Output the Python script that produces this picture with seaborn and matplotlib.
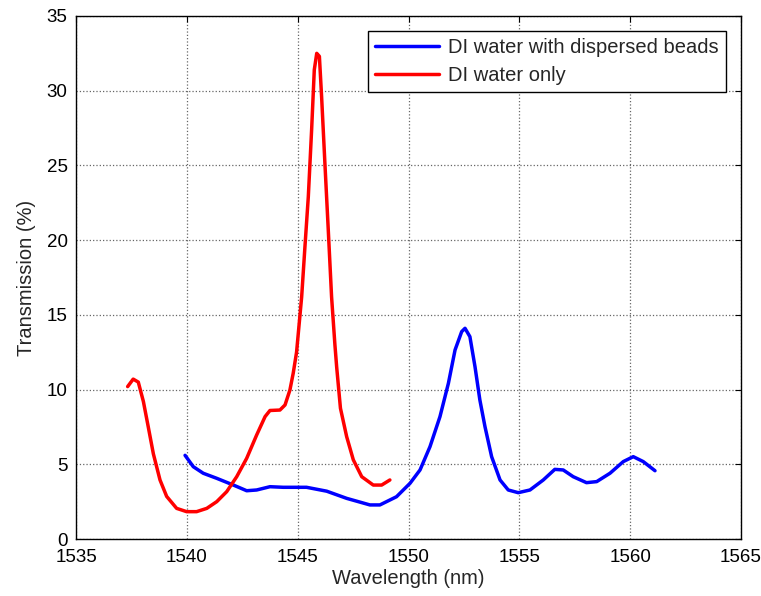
import matplotlib
matplotlib.use("Agg")
import matplotlib.pyplot as plt
import seaborn as sns
import pandas as pd

# Transmission spectra (wavelength in nm, transmission in %)
water_wl = [1537.33, 1537.58, 1537.81, 1538.04, 1538.26, 1538.49, 1538.79, 1539.09,
            1539.54, 1539.99, 1540.44, 1540.90, 1541.35, 1541.80, 1542.25, 1542.70,
            1543.15, 1543.53, 1543.75, 1544.20, 1544.43, 1544.65, 1544.80, 1544.95,
            1545.18, 1545.33, 1545.48, 1545.63, 1545.75, 1545.86, 1545.98, 1546.08,
            1546.23, 1546.38, 1546.53, 1546.68, 1546.76, 1546.93, 1547.21, 1547.51,
            1547.89, 1548.41, 1548.79, 1549.16]
water_tr = [10.2, 10.7, 10.5, 9.2, 7.5, 5.7, 3.95, 2.85,
            2.05, 1.83, 1.83, 2.05, 2.5, 3.17, 4.17, 5.4,
            6.96, 8.19, 8.6, 8.63, 8.97, 9.97, 11.1, 12.5,
            16.2, 19.6, 22.9, 27.4, 31.4, 32.5, 32.3, 29.6,
            25.1, 20.7, 16.2, 13.0, 11.5, 8.75, 6.85, 5.3,
            4.17, 3.61, 3.61, 3.95]

beads_wl = [1539.92, 1540.29, 1540.74, 1541.35, 1542.10, 1542.70, 1543.15, 1543.75,
            1544.35, 1545.40, 1546.31, 1547.21, 1548.26, 1548.71, 1549.46, 1550.07,
            1550.52, 1550.97, 1551.42, 1551.80, 1552.10, 1552.40, 1552.55, 1552.77,
            1553.00, 1553.22, 1553.45, 1553.75, 1554.13, 1554.50, 1554.95, 1555.48,
            1556.08, 1556.60, 1556.98, 1557.43, 1558.03, 1558.49, 1559.09, 1559.69,
            1560.14, 1560.59, 1561.12]
beads_tr = [5.6, 4.84, 4.4, 4.06, 3.61, 3.23, 3.28, 3.5,
            3.46, 3.46, 3.2, 2.72, 2.28, 2.28, 2.83, 3.73,
            4.62, 6.18, 8.19, 10.42, 12.65, 13.88, 14.1, 13.54,
            11.53, 9.3, 7.52, 5.51, 3.95, 3.28, 3.1, 3.28,
            3.95, 4.66, 4.62, 4.17, 3.77, 3.84, 4.4, 5.18,
            5.51, 5.18, 4.57]

series_names = ["DI water with dispersed beads", "DI water only"]
series_colors = ["#0000ff", "#ff0000"]
x_ticks = [1535, 1540, 1545, 1550, 1555, 1560, 1565]
y_ticks = [0, 5, 10, 15, 20, 25, 30, 35]

sns.set_style("white")
plt.rcParams["font.family"] = ["Liberation Sans", "DejaVu Sans"]
fs = 14.5

fig = plt.figure(figsize=(7.61, 5.96), dpi=100)
ax = fig.add_axes([76 / 761, 57 / 596, 665 / 761, 523 / 596])

df_beads = pd.DataFrame({"wl": beads_wl, "tr": beads_tr})
df_water = pd.DataFrame({"wl": water_wl, "tr": water_tr})

sns.lineplot(data=df_beads, x="wl", y="tr", ax=ax, color=series_colors[0],
             linewidth=2.5, label=series_names[0], sort=False, estimator=None)
sns.lineplot(data=df_water, x="wl", y="tr", ax=ax, color=series_colors[1],
             linewidth=2.5, label=series_names[1], sort=False, estimator=None)

ax.set_xlim(1535, 1565)
ax.set_ylim(0, 35)
ax.set_xticks(x_ticks)
ax.set_yticks(y_ticks)
ax.grid(True, color="#666666", linestyle=":", linewidth=0.9)
ax.tick_params(direction="in", length=4, width=0.8, top=True, right=True,
               labelsize=13.5, colors="black")
ax.tick_params(axis="x", pad=7)
ax.tick_params(axis="y", pad=6)
for s in ax.spines.values():
    s.set_visible(True)
    s.set_color("black")
    s.set_linewidth(1.0)

ax.set_xlabel("Wavelength (nm)", fontsize=fs, labelpad=2)
ax.set_ylabel("Transmission (%)", fontsize=fs, labelpad=8)

leg = ax.legend(loc="upper right", fontsize=fs, frameon=True, fancybox=False,
                edgecolor="black", framealpha=1, handlelength=3.2,
                borderaxespad=0.75, borderpad=0.35, labelspacing=0.45,
                handletextpad=0.45)
leg.get_frame().set_linewidth(1.0)

fig.savefig("out.png", dpi=100)
